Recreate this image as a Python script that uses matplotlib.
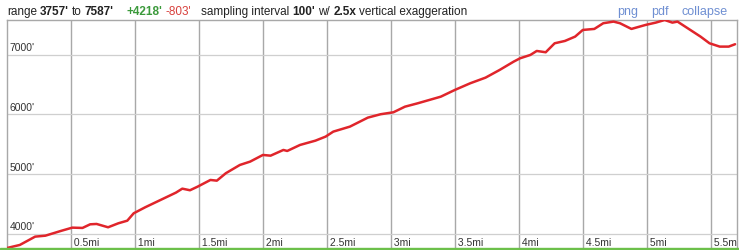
import matplotlib
matplotlib.use("Agg")
import matplotlib.pyplot as plt
from matplotlib.patches import Rectangle

plt.rcParams['font.family'] = ['Liberation Sans', 'DejaVu Sans']

# elevation profile
miles = [0.00, 0.10, 0.22, 0.30, 0.42, 0.51, 0.59, 0.65, 0.70, 0.79, 0.87, 0.94,
         0.99, 1.08, 1.20, 1.32, 1.37, 1.43, 1.49, 1.59, 1.64, 1.71, 1.82, 1.90,
         2.00, 2.06, 2.16, 2.19, 2.29, 2.41, 2.49, 2.55, 2.68, 2.82, 2.92, 3.02,
         3.11, 3.21, 3.39, 3.50, 3.62, 3.74, 3.85, 3.96, 4.01, 4.09, 4.14, 4.21,
         4.28, 4.36, 4.44, 4.50, 4.59, 4.66, 4.74, 4.79, 4.88, 4.99, 5.07, 5.14,
         5.20, 5.24, 5.34, 5.42, 5.49, 5.57, 5.64, 5.69]
elev = [3757, 3808, 3948, 3964, 4043, 4099, 4094, 4155, 4161, 4105, 4172, 4216,
        4340, 4441, 4564, 4687, 4754, 4727, 4788, 4900, 4888, 5013, 5152, 5208,
        5320, 5308, 5404, 5387, 5488, 5560, 5628, 5712, 5796, 5947, 6004, 6037,
        6131, 6188, 6299, 6412, 6524, 6619, 6748, 6888, 6944, 7000, 7067, 7045,
        7196, 7235, 7308, 7420, 7437, 7533, 7560, 7533, 7437, 7504, 7543, 7587,
        7543, 7560, 7420, 7308, 7196, 7140, 7140, 7180]

x_ticks = [0.5, 1, 1.5, 2, 2.5, 3, 3.5, 4, 4.5, 5, 5.5]
x_labels = ['0.5mi', '1mi', '1.5mi', '2mi', '2.5mi', '3mi', '3.5mi', '4mi', '4.5mi', '5mi', '5.5mi']
y_ticks = [4000, 5000, 6000, 7000]
y_labels = ["4000'", "5000'", "6000'", "7000'"]

W, H = 739, 250
fig = plt.figure(figsize=(W / 100, H / 100), dpi=100)

# plot area in pixels: x 7..737, y 20..248
ax = fig.add_axes([7 / W, 2 / H, 730 / W, 228 / H])
ax.set_xlim(0, 5.705)
ax.set_ylim(3757, 7587)

for xv in x_ticks:
    ax.axvline(xv, color='#a8a8a8', lw=1.0, zorder=1)
for yv in y_ticks:
    ax.axhline(yv, color='#cfcfcf', lw=0.9, zorder=1)

ax.plot(miles, elev, color='#e0252b', lw=1.8, zorder=3, solid_capstyle='round')

# labels sit inside the plot, like the original widget
for xv, lab in zip(x_ticks, x_labels):
    ax.text(xv, 3757, ' ' + lab, fontsize=7.5, color='#333333', ha='left', va='bottom',
            transform=ax.transData, clip_on=True)
for yv, lab in zip(y_ticks, y_labels):
    ax.text(0.02, yv + 25, lab, fontsize=7.5, color='#333333', ha='left', va='bottom')

ax.set_xticks([])
ax.set_yticks([])
ax.spines['bottom'].set_visible(False)
for side in ['left', 'top', 'right']:
    ax.spines[side].set_color('#a8a8a8')
    ax.spines[side].set_linewidth(1.0)

# thin terrain strip along the bottom
fig.patches.append(Rectangle((0, 0), 1, 2.5 / H, transform=fig.transFigure,
                             color='#6cc04a', zorder=0))

# header with mixed styles
renderer = fig.canvas.get_renderer()
runs = [("range", 'normal', '#222222', 0),
        ("3757'", 'bold', '#222222', 3),
        ("to", 'normal', '#222222', 3),
        ("7587'", 'bold', '#222222', 3),
        ("+4218'", 'bold', '#3c9a3c', 13),
        ("-803'", 'normal', '#d8403c', 3),
        ("sampling interval", 'normal', '#222222', 10),
        ("100'", 'bold', '#222222', 3),
        ("w/", 'normal', '#222222', 3),
        ("2.5x", 'bold', '#222222', 3),
        ("vertical exaggeration", 'normal', '#222222', 3)]
xpix = 7
for txt, wt, col, gap in runs:
    xpix += gap
    t = fig.text(xpix / W, 1 - 15 / H, txt, fontsize=8.5, fontweight=wt, color=col,
                 ha='left', va='baseline')
    xpix += t.get_window_extent(renderer).width

for txt, xp in [("png", 617), ("pdf", 651), ("collapse", 681)]:
    fig.text(xp / W, 1 - 15 / H, txt, fontsize=9, color='#6f8fd2',
             ha='left', va='baseline')

fig.savefig('out.png', dpi=100)
